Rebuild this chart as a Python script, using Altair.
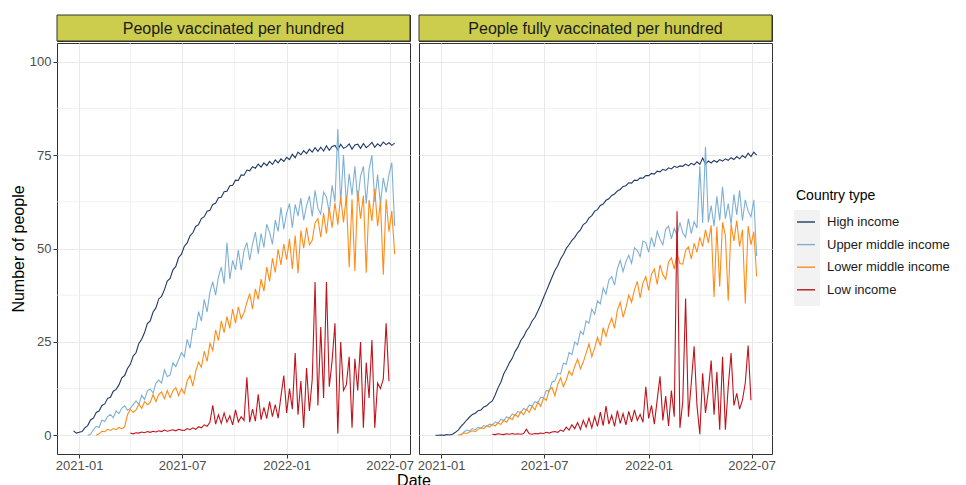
import altair as alt
import pandas as pd
import numpy as np

FONT = "Liberation Sans"
categories = ["High income", "Upper middle income", "Lower middle income", "Low income"]
colors = ["#1f3a63", "#7eb0d5", "#ff8c1a", "#c0141c"]
measures = ["People vaccinated per hundred", "People fully vaccinated per hundred"]
y_ticks = [0, 25, 50, 75, 100]
y_minor = [12.5, 37.5, 62.5, 87.5]
x_ticks = [(2021, 1), (2021, 7), (2022, 1), (2022, 7)]
x_minor = ["2021-04-01", "2021-10-01", "2022-04-01"]
STEP = 5  # days between readings

# ---- People vaccinated per hundred (start = days after 2021-01-01) ----
v_high_start = -10
v_high = [1.2, 0.6, 0.8, 1.0, 2.0, 2.6, 4.1, 4.6, 6.1, 6.5,
          8.0, 8.4, 9.9, 10.2, 11.8, 12.3, 13.5, 15.4, 16.0, 17.9,
          19.0, 21.2, 22.1, 24.6, 25.7, 27.5, 29.9, 30.6, 33.0, 34.1,
          36.5, 37.2, 39.0, 41.3, 42.0, 44.3, 45.2, 47.6, 48.5, 50.6,
          51.5, 53.4, 54.2, 55.9, 56.4, 58.0, 58.5, 60.0, 60.2, 61.8,
          62.1, 63.6, 63.7, 65.2, 65.3, 66.8, 66.9, 68.3, 68.2, 69.7,
          69.6, 71.0, 70.8, 71.9, 71.5, 72.6, 71.8, 72.9, 72.2, 73.3,
          72.5, 73.7, 72.9, 74.0, 73.3, 74.4, 73.8, 75.2, 74.3, 75.8,
          75.1, 76.2, 75.4, 76.6, 75.8, 77.0, 76.0, 77.1, 76.1, 77.5,
          76.3, 77.3, 77.6, 76.4, 77.9, 76.8, 77.2, 78.0, 76.6, 77.7,
          77.9, 76.8, 78.1, 77.0, 77.6, 78.4, 77.1, 78.0, 77.4, 78.5,
          77.8, 78.3, 77.6, 78.2]
v_upper_start = 15
v_upper = [0.0, 0.3, 1.5, 2.4, 2.1, 4.1, 3.7, 5.0, 5.6, 4.7,
           6.5, 5.8, 7.3, 7.9, 6.7, 7.2, 8.2, 9.2, 8.3, 10.7,
           9.6, 11.9, 12.4, 11.3, 13.9, 14.8, 14.0, 17.5, 15.7, 16.2,
           19.4, 18.4, 20.3, 22.1, 21.0, 25.7, 23.3, 28.5, 28.3, 33.1,
           30.6, 36.4, 33.0, 38.3, 41.1, 37.5, 42.4, 45.0, 40.6, 51.6,
           41.8, 46.8, 44.3, 49.6, 44.2, 49.4, 51.6, 46.9, 51.2, 54.4,
           48.6, 54.0, 50.3, 56.5, 54.3, 51.1, 57.6, 54.6, 61.0, 55.2,
           59.5, 62.0, 55.6, 61.8, 58.7, 63.5, 57.6, 61.4, 64.0, 58.6,
           65.6, 60.8, 59.2, 65.1, 63.8, 59.6, 66.9, 62.5, 82.0, 62.0,
           75.0, 62.0, 70.0, 64.3, 72.0, 62.7, 69.4, 72.0, 62.0, 71.2,
           75.0, 62.5, 69.8, 61.8, 68.9, 65.0, 69.8, 73.0, 56.0]
v_lower_start = 30
v_lower = [0.0, 0.4, 1.1, 1.0, 1.6, 1.3, 1.8, 1.5, 2.1, 1.7,
           2.3, 5.5, 7.0, 6.1, 6.8, 8.3, 7.2, 9.0, 8.2, 8.8,
           10.9, 9.0, 11.0, 11.6, 9.8, 12.0, 10.1, 11.9, 12.8, 10.6,
           12.5, 11.2, 14.6, 16.0, 13.2, 17.1, 19.6, 18.2, 22.5, 19.8,
           24.6, 22.7, 28.2, 25.4, 30.6, 27.5, 31.8, 28.6, 33.8, 30.0,
           34.4, 31.2, 32.8, 35.6, 37.9, 33.8, 39.2, 36.4, 41.8, 38.6,
           45.0, 41.2, 47.4, 43.6, 49.8, 45.6, 51.2, 47.0, 52.6, 44.5,
           53.5, 43.4, 54.8, 50.1, 55.6, 51.0, 52.2, 56.9, 58.0, 53.0,
           59.5, 54.0, 60.8, 55.6, 62.2, 56.4, 63.8, 57.0, 64.0, 45.0,
           63.2, 44.0, 65.5, 58.0, 64.2, 43.5, 63.0, 57.4, 66.0, 56.0,
           62.5, 43.0, 63.2, 54.5, 60.0, 48.5]
v_low_start = 90
v_low = [0.6, 0.4, 0.7, 0.6, 0.9, 0.7, 1.0, 0.8, 1.1, 0.9,
         1.2, 1.0, 1.4, 1.1, 1.3, 1.5, 1.2, 1.6, 1.4, 1.3,
         1.8, 1.5, 2.0, 1.6, 2.3, 2.0, 2.8, 2.4, 3.5, 8.0,
         3.0, 5.5, 3.2, 6.0, 3.5, 5.2, 2.8, 6.8, 3.6, 5.0,
         4.0, 15.5, 3.5, 7.0, 3.8, 11.0, 4.2, 7.5, 4.5, 9.0,
         5.0, 8.2, 4.6, 10.5, 16.0, 6.0, 12.5, 7.0, 22.0, 5.5,
         14.5, 2.0, 18.0, 6.5, 15.0, 41.0, 8.0, 29.0, 10.0, 41.0,
         13.0, 20.0, 30.0, 0.5, 25.0, 12.0, 13.5, 21.0, 2.0, 20.5,
         12.0, 25.0, 2.0, 19.5, 10.0, 25.5, 2.0, 14.0, 12.5, 15.0,
         30.0, 14.5]

# ---- People fully vaccinated per hundred ----
f_high_start = -10
f_high = [0.0, 0.0, 0.1, 0.0, 0.2, 0.1, 0.3, 0.8, 1.4, 2.4,
          3.2, 4.1, 4.9, 5.6, 5.9, 6.6, 6.8, 7.6, 7.9, 8.7,
          9.2, 10.8, 12.7, 14.2, 16.4, 17.8, 19.4, 20.6, 22.4, 23.6,
          25.4, 26.4, 28.0, 29.0, 30.6, 31.6, 33.2, 34.9, 36.8, 38.6,
          40.5, 42.3, 44.1, 45.4, 47.2, 48.4, 50.0, 51.0, 52.2, 53.0,
          54.2, 55.0, 56.4, 56.9, 58.2, 58.8, 60.0, 60.4, 61.5, 61.9,
          62.9, 63.3, 64.2, 64.6, 65.4, 65.8, 66.6, 66.8, 67.6, 67.5,
          68.3, 68.2, 68.9, 68.8, 69.5, 69.5, 70.1, 69.9, 70.7, 70.5,
          71.2, 70.9, 71.6, 71.3, 72.0, 71.7, 72.1, 72.0, 72.6, 72.1,
          72.8, 72.4, 73.2, 72.5, 74.2, 72.6, 73.4, 72.9, 73.6, 73.1,
          73.8, 73.4, 74.0, 73.6, 74.3, 73.8, 74.6, 74.0, 74.9, 74.3,
          75.5, 74.6, 75.8, 75.0]
f_upper_start = 35
f_upper = [0.0, 0.9, 1.4, 1.2, 1.8, 1.5, 2.2, 1.9, 2.6, 2.3,
           3.0, 2.8, 3.6, 3.2, 4.3, 3.9, 5.0, 4.6, 5.7, 5.3,
           6.4, 6.0, 7.2, 6.8, 8.1, 7.8, 9.0, 8.7, 10.2, 10.0,
           12.0, 11.8, 14.3, 14.5, 16.6, 16.4, 19.3, 19.0, 22.2, 21.6,
           25.0, 24.2, 27.8, 27.0, 30.6, 30.0, 33.8, 32.4, 36.0, 35.2,
           39.4, 37.8, 41.6, 42.5, 40.2, 44.6, 46.8, 43.8, 46.5, 48.2,
           46.0, 50.2, 49.5, 47.8, 52.0, 51.6, 49.0, 53.0, 50.4, 54.6,
           52.5, 51.0, 55.2, 56.0, 52.6, 55.4, 53.5, 57.0, 54.2, 53.0,
           58.0, 54.0, 57.2, 55.5, 72.0, 56.8, 77.2, 57.0, 61.5, 56.0,
           64.0, 57.5, 66.5, 58.0, 62.0, 56.5, 64.5, 59.0, 65.6, 57.5,
           63.0, 60.0, 58.5, 63.0, 48.0]
f_lower_start = 30
f_lower = [0.0, 0.3, 0.6, 0.5, 0.9, 1.2, 1.0, 1.6, 2.0, 1.8,
           2.6, 2.2, 2.9, 2.5, 3.4, 2.9, 4.0, 3.5, 4.8, 4.2,
           5.6, 4.9, 6.3, 5.5, 7.0, 6.1, 7.8, 6.8, 8.9, 7.8,
           10.0, 9.4, 12.2, 12.8, 10.6, 13.6, 15.4, 13.0, 14.8, 17.2,
           16.0, 18.5, 20.4, 17.8, 19.6, 22.0, 24.5, 21.0, 23.4, 26.2,
           24.0, 28.8, 26.5, 29.4, 31.4, 28.6, 33.5, 35.6, 31.6, 34.2,
           37.5, 35.6, 39.0, 41.2, 36.8, 40.8, 42.5, 38.8, 43.2, 44.5,
           40.4, 45.6, 43.0, 41.8, 46.4, 47.5, 44.5, 48.6, 46.0, 45.8,
           49.5, 50.4, 47.2, 51.4, 49.0, 53.0, 50.5, 55.0, 51.5, 56.2,
           37.0, 55.8, 39.8, 57.0, 53.5, 36.0, 56.5, 52.0, 57.5, 50.5,
           55.0, 35.3, 56.0, 51.0, 54.5, 42.5]
f_low_start = 90
f_low = [0.3, 0.2, 0.4, 0.3, 0.2, 0.4, 0.3, 0.5, 0.3, 0.4,
         0.3, 0.5, 1.6, 0.4, 0.3, 0.5, 0.4, 0.6, 0.5, 0.8,
         0.6, 0.9, 1.0, 0.8, 1.4, 1.1, 2.2, 1.4, 2.8, 1.8,
         3.4, 1.6, 4.0, 2.2, 4.6, 2.0, 5.0, 2.4, 6.2, 2.6,
         7.8, 3.0, 5.4, 2.4, 6.6, 3.2, 5.8, 2.8, 6.4, 3.6,
         6.8, 4.0, 5.6, 3.5, 13.0, 4.5, 8.0, 3.0, 9.5, 15.8,
         4.0, 10.5, 2.5, 12.0, 5.0, 60.0, 2.0, 9.0, 36.6, 5.0,
         14.0, 23.8, 8.0, 0.3, 16.6, 6.0, 12.0, 20.0, 5.5, 17.0,
         1.5, 21.0, 1.5, 13.0, 22.0, 8.0, 11.2, 7.0, 9.4, 14.0,
         24.0, 9.4]

series_table = [
    (measures[0], categories[0], v_high_start, v_high),
    (measures[0], categories[1], v_upper_start, v_upper),
    (measures[0], categories[2], v_lower_start, v_lower),
    (measures[0], categories[3], v_low_start, v_low),
    (measures[1], categories[0], f_high_start, f_high),
    (measures[1], categories[1], f_upper_start, f_upper),
    (measures[1], categories[2], f_lower_start, f_lower),
    (measures[1], categories[3], f_low_start, f_low),
]

frames = []
for meas, cat, start, vals in series_table:
    offs = start + STEP * np.arange(len(vals))
    dates = pd.Timestamp("2021-01-01") + pd.to_timedelta(offs, unit="D")
    frames.append(pd.DataFrame({"date": dates, "value": vals, "type": cat, "measure": meas}))
df = pd.concat(frames, ignore_index=True)

W, H, SH = 353, 411, 26
GRID = "#e8e8e8"
DARK = "#333333"
STRIP = "#cccc4d"
KEY_BG = "#f2f2f2"

x_scale = alt.Scale(domain=[alt.DateTime(year=2020, month=11, date=23),
                            alt.DateTime(year=2022, month=8, date=6)])
y_scale = alt.Scale(domain=[-5, 105], nice=False)
x_vals = [alt.DateTime(year=y, month=m, date=1) for y, m in x_ticks]

color_enc = alt.Color(
    "type:N",
    scale=alt.Scale(domain=categories, range=colors),
    legend=alt.Legend(
        title="Country type", orient="none", legendX=739, legendY=174,
        symbolType="stroke", symbolSize=324, symbolStrokeWidth=1.4,
        labelOffset=11, rowPadding=5.6, titlePadding=9,
    ),
)


def x_axis():
    return alt.Axis(values=x_vals, format="%Y-%m", grid=True, gridColor=GRID, gridWidth=1,
                    domain=False, tickColor=DARK, tickSize=4, labelPadding=1,
                    labelFlush=False, title="")


def y_axis(left):
    if left:
        return alt.Axis(values=y_ticks, grid=True, gridColor=GRID, gridWidth=1, domain=False,
                        tickColor=DARK, tickSize=4, labelPadding=2, title="Number of people",
                        titlePadding=3)
    return alt.Axis(values=y_ticks, grid=True, gridColor=GRID, gridWidth=1, domain=False,
                    labels=False, ticks=False, title="", minExtent=0, maxExtent=0,
                    offset=0)


def panel(meas, left):
    xenc = alt.X("date:T", scale=x_scale, axis=x_axis())
    yenc = alt.Y("value:Q", scale=y_scale, axis=y_axis(left))
    minor_x = alt.Chart(pd.DataFrame({"date": pd.to_datetime(x_minor)})).mark_rule(
        color=GRID, strokeWidth=0.6).encode(x=xenc)
    minor_y = alt.Chart(pd.DataFrame({"value": y_minor})).mark_rule(
        color=GRID, strokeWidth=0.6).encode(y=yenc)
    layers = [minor_x, minor_y]
    for cat in categories:
        sub = df[(df.measure == meas) & (df.type == cat)]
        layers.append(alt.Chart(sub).mark_line(strokeWidth=1.1).encode(
            x=xenc, y=yenc, color=color_enc))
    if not left:
        # grey background behind the legend keys (ggplot legend.key)
        key_bg = alt.Chart(pd.DataFrame({"k": [0]})).mark_rect(fill=KEY_BG).encode(
            x=alt.value(W + 22), x2=alt.value(W + 48), y=alt.value(167), y2=alt.value(263))
        layers.append(key_bg)
    plot = alt.layer(*layers).properties(width=W, height=H)

    sbase = alt.Chart(pd.DataFrame({"measure": [meas]}))
    rect = sbase.mark_rect(fill=STRIP, stroke=DARK, strokeWidth=1).encode(
        x=alt.value(0), x2=alt.value(W), y=alt.value(0), y2=alt.value(SH))
    txt = sbase.mark_text(font=FONT, fontSize=16, color="#1a1a1a", baseline="middle").encode(
        x=alt.value(W / 2), y=alt.value(SH / 2 + 1), text="measure:N")
    strip = alt.layer(rect, txt).properties(width=W, height=SH)
    return alt.vconcat(strip, plot, spacing=0)


chart = alt.hconcat(panel(measures[0], True), panel(measures[1], False),
                    spacing=2).properties(
    padding={"left": 1, "top": 6, "right": 0, "bottom": 0},
    title=alt.TitleParams("Date", orient="bottom", anchor="middle", frame="group",
                          font=FONT, fontSize=16, fontWeight="normal", color="#000000",
                          offset=0, dx=357),
).configure_view(stroke=DARK, strokeWidth=1).configure_axis(
    labelFont=FONT, titleFont=FONT, labelFontSize=13, titleFontSize=16,
    labelColor="#4d4d4d", titleColor="#000000", titleFontWeight="normal"
).configure_legend(
    labelFont=FONT, titleFont=FONT, labelFontSize=13, titleFontSize=14,
    titleFontWeight="normal", labelColor="#1a1a1a", titleColor="#000000"
)

chart.save("out.html", embed_options={"renderer": "svg", "actions": False})
